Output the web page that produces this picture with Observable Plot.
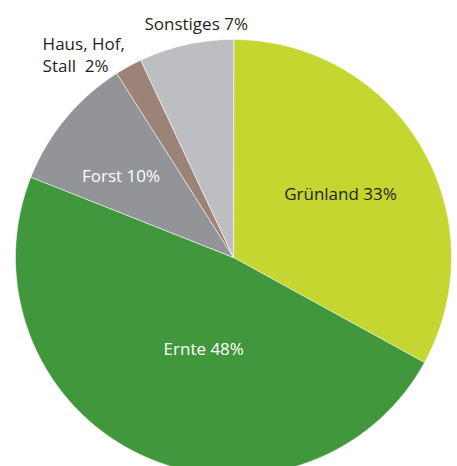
<!DOCTYPE html>
<html>
<head>
<meta charset="utf-8">
<script src="https://cdn.jsdelivr.net/npm/d3@7"></script>
<script src="https://cdn.jsdelivr.net/npm/@observablehq/plot@0.6"></script>
<style>
  html, body { margin: 0; padding: 0; background: #fff; }
  #chart svg { display: block; }
</style>
</head>
<body>
<div id="chart"></div>
<script>
// Data
const categories = ["Grünland", "Ernte", "Forst", "Haus, Hof, Stall", "Sonstiges"];
const values = [33, 48, 10, 2, 7];
const labels = ["Grünland 33%", "Ernte 48%", "Forst 10%", "Haus, Hof,\nStall  2%", "Sonstiges 7%"];
const colors = ["#c3d730", "#41973c", "#929497", "#9b8477", "#bcbec1"];
const labelColors = ["#231f20", "#ffffff", "#ffffff", "#231f20", "#231f20"];

// Label placement (radius factor on the slice mid angle + pixel nudges)
const placement = {
  "Grünland": {r: 0.57, dx: 0, dy: -1, anchor: "middle"},
  "Ernte": {r: 0.45, dx: 12, dy: 2, anchor: "middle"},
  "Forst": {r: 0.64, dx: -5, dy: 6, anchor: "middle"},
  "Haus, Hof, Stall": {r: 1.17, dx: -68, dy: 20, anchor: "start"},
  "Sonstiges": {r: 1.1, dx: 15, dy: -1, anchor: "middle"}
};

const pie = d3.pie().sort(null).value(d => d.value);
const table = categories.map((c, i) => ({cat: c, value: values[i], label: labels[i], lc: labelColors[i]}));
const arcs = pie(table);

// Outline points for each slice (center + arc samples)
const outline = [];
for (const a of arcs) {
  outline.push({cat: a.data.cat, x: 0, y: 0});
  const n = Math.max(2, Math.ceil((a.endAngle - a.startAngle) / 0.004));
  for (let k = 0; k <= n; k++) {
    const t = a.startAngle + (a.endAngle - a.startAngle) * k / n;
    outline.push({cat: a.data.cat, x: Math.sin(t), y: Math.cos(t)});
  }
}

const labelData = arcs.map(a => {
  const p = placement[a.data.cat];
  const m = (a.startAngle + a.endAngle) / 2;
  return {...a.data, x: p.r * Math.sin(m), y: p.r * Math.cos(m), dx: p.dx, dy: p.dy, anchor: p.anchor};
});

const textMark = (d) => Plot.text([d], {
  x: "x", y: "y", text: "label",
  fill: d.lc, textAnchor: d.anchor, dx: d.dx, dy: d.dy,
  fontSize: 17, lineHeight: 1.3
});

const chart = Plot.plot({
  width: 457,
  height: 466,
  margin: 0,
  x: {domain: [-1, 1], range: [15, 451], axis: null},
  y: {domain: [-1, 1], range: [475, 39], axis: null},
  color: {domain: categories, range: colors},
  style: {fontFamily: "'Open Sans', Roboto, sans-serif", background: "#fff"},
  marks: [
    Plot.line(outline, {x: "x", y: "y", z: "cat", fill: "cat", stroke: "#ffffff", strokeWidth: 0.6, curve: "linear-closed"}),
    ...labelData.map(textMark)
  ]
});
document.getElementById("chart").appendChild(chart);
</script>
</body>
</html>
